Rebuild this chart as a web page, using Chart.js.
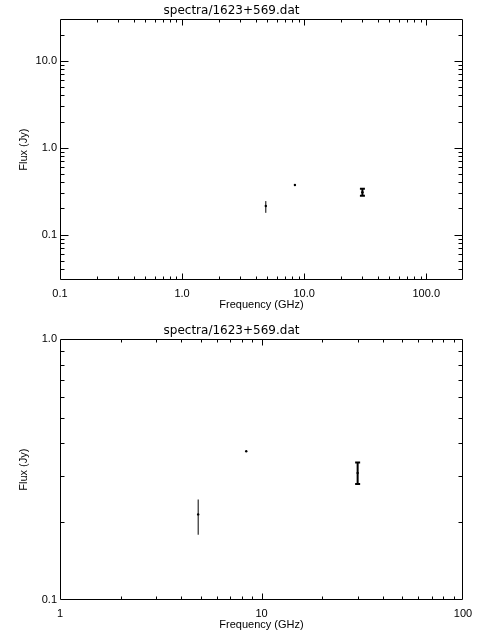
<!DOCTYPE html>
<html>
<head>
<meta charset="utf-8">
<script src="https://cdn.jsdelivr.net/npm/chart.js@4.4.1/dist/chart.umd.min.js"></script>
<style>
  html, body { margin: 0; padding: 0; background: #fff; }
  .panel { position: relative; width: 480px; height: 320px; }
</style>
</head>
<body>
<div class="panel"><canvas id="fullSpectrum"></canvas></div>
<div class="panel"><canvas id="zoomSpectrum"></canvas></div>
<script>
// measurements from spectra/1623+569.dat
const frequencies = [4.85, 8.4, 30.0];   // GHz
const fluxes = [0.213, 0.372, 0.307];     // Jy
const fluxLow = [0.178, 0.372, 0.279];
const fluxHigh = [0.243, 0.372, 0.337];

// labelled ticks for each panel
const topXTicks = [0.1, 1, 10, 100];
const topXLabels = ['0.1', '1.0', '10.0', '100.0'];
const topYTicks = [0.1, 1, 10];
const topYLabels = ['0.1', '1.0', '10.0'];
const bottomXTicks = [1, 10, 100];
const bottomXLabels = ['1', '10', '100'];
const bottomYTicks = [0.1, 1];
const bottomYLabels = ['0.1', '1.0'];

// error bar look (thin bar without caps, thick bar with caps)
const barWidths = [1, 1, 2];
const capSizes = [0, 0, 2.5];

Chart.defaults.font.family = "'Liberation Sans', Arial, sans-serif";
Chart.defaults.font.size = 11;
Chart.defaults.color = '#000';

// 1..9 steps of every decade strictly inside the axis range
function decadeSteps(min, max) {
    const steps = [];
    for (let e = Math.floor(Math.log10(min)); e <= Math.ceil(Math.log10(max)); e++) {
        for (let m = 1; m <= 9; m++) {
            const v = m * Math.pow(10, e);
            if (v > min * 1.001 && v < max * 0.999) steps.push({ v: v, major: m === 1 });
        }
    }
    return steps;
}

// box round the plot with inward ticks on all four sides
const idlFrame = {
    id: 'idlFrame',
    afterDraw(chart) {
        const ctx = chart.ctx;
        const a = chart.chartArea;
        const xs = chart.scales.x, ys = chart.scales.y;
        const L = Math.round(a.left) + 0.5, R = Math.round(a.right) - 0.5;
        const T = Math.round(a.top) + 0.5, B = Math.round(a.bottom) - 0.5;
        ctx.save();
        ctx.strokeStyle = '#000';
        ctx.lineWidth = 1;
        ctx.beginPath();
        ctx.rect(L, T, R - L, B - T);
        decadeSteps(xs.min, xs.max).forEach(s => {
            const px = Math.round(xs.getPixelForValue(s.v)) + 0.5;
            const len = s.major ? 6 : 3;
            ctx.moveTo(px, B); ctx.lineTo(px, B - len);
            ctx.moveTo(px, T); ctx.lineTo(px, T + len);
        });
        decadeSteps(ys.min, ys.max).forEach(s => {
            const py = Math.round(ys.getPixelForValue(s.v)) + 0.5;
            const len = s.major ? 8 : 4;
            ctx.moveTo(L, py); ctx.lineTo(L + len, py);
            ctx.moveTo(R, py); ctx.lineTo(R - len, py);
        });
        ctx.stroke();
        ctx.restore();
    }
};

function makePanel(canvasId, xMin, xMax, yMin, yMax, xTicks, xLabels, yTicks, yLabels) {
    const errorBars = frequencies.map((f, i) => ({
        data: [{ x: f, y: fluxLow[i] }, { x: f, y: fluxHigh[i] }],
        showLine: true,
        borderColor: '#000',
        borderWidth: barWidths[i],
        pointStyle: 'line',
        pointRadius: capSizes[i],
        pointBorderWidth: barWidths[i],
        pointBorderColor: '#000'
    }));
    const points = {
        data: frequencies.map((f, i) => ({ x: f, y: fluxes[i] })),
        pointRadius: 1.2,
        backgroundColor: '#000',
        borderColor: '#000',
        borderWidth: 0
    };

    return new Chart(document.getElementById(canvasId), {
        type: 'scatter',
        data: { datasets: [...errorBars, points] },
        options: {
            responsive: true,
            maintainAspectRatio: false,
            animation: false,
            events: [],
            layout: { padding: { left: 0, right: 17, top: 0, bottom: 0 } },
            plugins: {
                legend: { display: false },
                tooltip: { enabled: false },
                title: {
                    display: true,
                    text: 'spectra/1623+569.dat',
                    color: '#000',
                    font: { family: "'DejaVu Sans', sans-serif", size: 12, weight: 'normal' },
                    padding: { top: 4, bottom: 1 }
                }
            },
            scales: {
                x: {
                    type: 'logarithmic',
                    min: xMin,
                    max: xMax,
                    grid: { display: false, drawTicks: false },
                    border: { display: false },
                    afterBuildTicks: s => { s.ticks = xTicks.map(v => ({ value: v })); },
                    afterFit: s => { s.height = 40; },
                    ticks: {
                        autoSkip: false,
                        maxRotation: 0,
                        padding: 7,
                        callback: v => xLabels[xTicks.indexOf(v)]
                    },
                    title: { display: true, text: 'Frequency (GHz)', padding: { top: 0, bottom: 8 } }
                },
                y: {
                    type: 'logarithmic',
                    min: yMin,
                    max: yMax,
                    grid: { display: false, drawTicks: false },
                    border: { display: false },
                    afterBuildTicks: s => { s.ticks = yTicks.map(v => ({ value: v })); },
                    afterFit: s => { s.width = 60; },
                    ticks: {
                        autoSkip: false,
                        padding: 3,
                        callback: v => yLabels[yTicks.indexOf(v)]
                    },
                    title: { display: true, text: 'Flux (Jy)', padding: { top: 17, bottom: 0 } }
                }
            }
        },
        plugins: [idlFrame]
    });
}

makePanel('fullSpectrum', 0.1, 200, 0.03, 30, topXTicks, topXLabels, topYTicks, topYLabels);
makePanel('zoomSpectrum', 1, 100, 0.1, 1, bottomXTicks, bottomXLabels, bottomYTicks, bottomYLabels);
</script>
</body>
</html>
